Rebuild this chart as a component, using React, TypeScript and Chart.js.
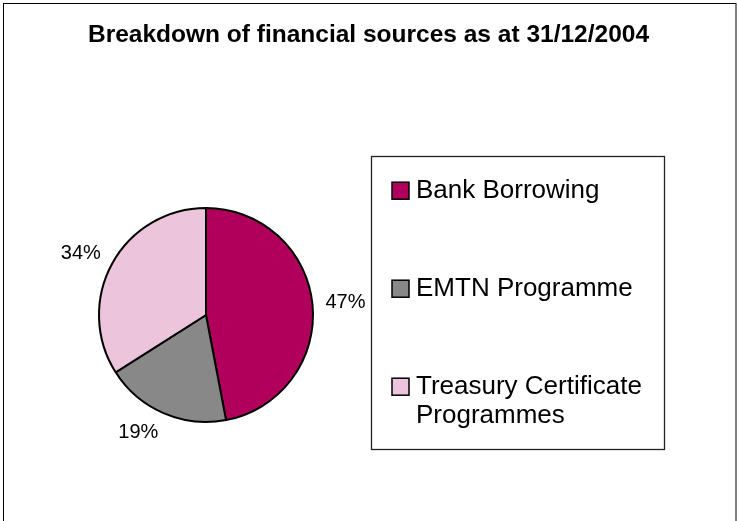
import React, { useEffect, useRef } from "react";
import { Chart, registerables } from "chart.js";

Chart.register(...registerables);

const TITLE = "Breakdown of financial sources as at 31/12/2004";
const categories = ["Bank Borrowing", "EMTN Programme", "Treasury Certificate Programmes"];
const legendLines = [["Bank Borrowing"], ["EMTN Programme"], ["Treasury Certificate", "Programmes"]];
const shares = [47, 19, 34];
const colors = ["#B0005B", "#888888", "#ECC4DB"];

const FONT = '"Liberation Sans", Arial, Helvetica, sans-serif';

const decor = {
  id: "decor",
  beforeDraw(chart: any) {
    const ctx = chart.ctx;
    ctx.save();
    ctx.fillStyle = "#ffffff";
    ctx.fillRect(0, 0, chart.width, chart.height);
    ctx.restore();
  },
  afterDraw(chart: any) {
    const ctx = chart.ctx;
    ctx.save();
    // outer frame
    ctx.strokeStyle = "#000000";
    ctx.lineWidth = 1;
    ctx.strokeRect(3.5, 3.5, chart.width - 4.5, chart.height + 20);

    // title
    ctx.fillStyle = "#000000";
    ctx.font = `bold 24.5px ${FONT}`;
    ctx.textAlign = "center";
    ctx.textBaseline = "alphabetic";
    ctx.fillText(TITLE, chart.width / 2, 42);

    // data labels
    const meta = chart.getDatasetMeta(0);
    ctx.font = `20px ${FONT}`;
    ctx.textBaseline = "middle";
    meta.data.forEach((arc: any, i: number) => {
      const p = arc.getProps(["x", "y", "startAngle", "endAngle", "outerRadius"], true);
      const mid = (p.startAngle + p.endAngle) / 2;
      const d = p.outerRadius + 13;
      const text = `${shares[i]}%`;
      const w = ctx.measureText(text).width;
      const cx = p.x + Math.cos(mid) * d + Math.sign(Math.cos(mid)) * w / 2;
      const cy = p.y + Math.sin(mid) * d + Math.sin(mid) * 8;
      ctx.fillText(text, cx, cy);
    });

    // legend box
    const bx = 371.5, by = 156.5, bw = 293, bh = 293;
    ctx.strokeStyle = "#222222";
    ctx.lineWidth = 1.3;
    ctx.strokeRect(bx, by, bw, bh);
    ctx.font = `26px ${FONT}`;
    ctx.textAlign = "left";
    ctx.textBaseline = "middle";
    categories.forEach((_, i) => {
      const cy = 190.7 + i * 98;
      ctx.fillStyle = colors[i];
      ctx.fillRect(392, cy - 8.5, 17, 17);
      ctx.strokeStyle = "#000000";
      ctx.lineWidth = 1.5;
      ctx.strokeRect(392, cy - 8.5, 17, 17);
      ctx.fillStyle = "#000000";
      legendLines[i].forEach((line, j) => {
        ctx.fillText(line, 416, cy + j * 29);
      });
    });
    ctx.restore();
  },
};

export default function App() {
  const ref = useRef<HTMLCanvasElement | null>(null);
  useEffect(() => {
    if (!ref.current) return;
    const chart = new Chart(ref.current, {
      type: "pie",
      data: {
        labels: categories,
        datasets: [
          {
            data: shares,
            backgroundColor: colors,
            borderColor: "#000000",
            borderWidth: 2,
            hoverOffset: 0,
            offset: 0,
          },
        ],
      },
      options: {
        responsive: false,
        animation: false,
        devicePixelRatio: 1,
        radius: 107,
        layout: { padding: { left: 50, right: 375, top: 159, bottom: 50 } },
        plugins: {
          legend: { display: false },
          title: { display: false },
          tooltip: { enabled: false },
        },
        events: [],
      } as any,
      plugins: [decor],
    });
    return () => chart.destroy();
  }, []);
  return (
    <div style={{ position: "fixed", left: 0, top: 0, width: 737, height: 521, background: "#fff" }}>
      <canvas ref={ref} width={737} height={521} style={{ width: 737, height: 521, display: "block" }} />
    </div>
  );
}
